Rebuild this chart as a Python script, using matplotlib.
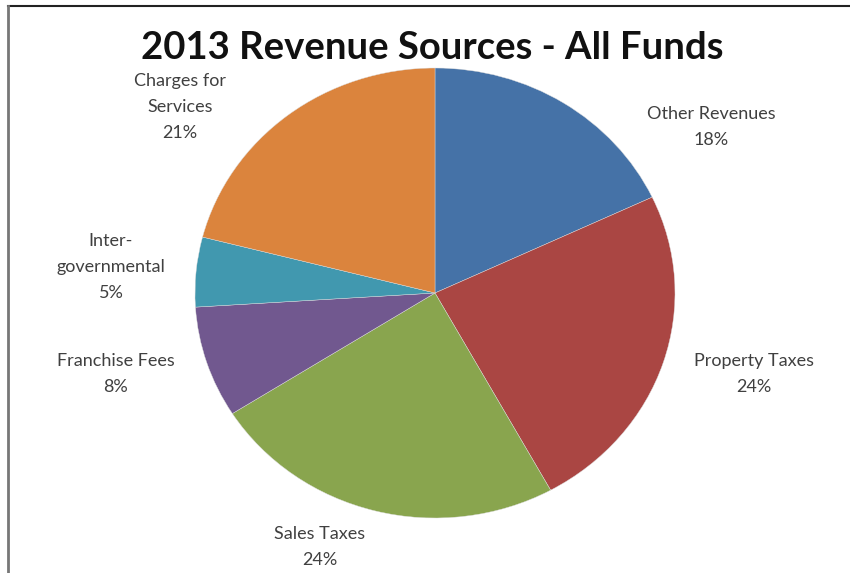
import matplotlib.pyplot as plt
from matplotlib.lines import Line2D

# Revenue sources, in clockwise order from 12 o'clock
labels = ['Other Revenues', 'Property Taxes', 'Sales Taxes', 'Franchise Fees',
          'Inter-\ngovernmental', 'Charges for\nServices']
shares = [18, 24, 24, 8, 5, 21]
colors = ['#4572A7', '#AA4643', '#89A54E', '#71588F', '#4198AF', '#DB843D']

# label centres in figure pixels (x from left, y from top)
label_pos = [(711, 127), (754, 374), (320, 547), (116, 374), (111, 267), (180, 107)]

W, H = 850, 573
fig = plt.figure(figsize=(W / 100, H / 100), dpi=100)
plt.rcParams['font.family'] = ['Lato', 'DejaVu Sans']

# pie is slightly wider than tall in the original
cx, cy, rx, ry = 435, 293, 240, 225
ax = fig.add_axes([(cx - rx) / W, (H - cy - ry) / H, 2 * rx / W, 2 * ry / H])
ax.pie(shares, colors=colors, startangle=90, counterclock=False,
       wedgeprops=dict(linewidth=0.3, edgecolor='#dddddd'))
ax.set_aspect('auto')
ax.set_xlim(-1, 1)
ax.set_ylim(-1, 1)
ax.axis('off')

for lab, val, (px, py) in zip(labels, shares, label_pos):
    fig.text(px / W, 1 - py / H, f'{lab}\n{val}%', ha='center', va='center',
             fontsize=13, color='#404040', linespacing=1.75)

fig.text(432 / W, 1 - 48 / H, '2013 Revenue Sources - All Funds', ha='center',
         va='center', fontsize=27.5, fontweight='bold', color='#111111')

# frame lines at top and left like the screenshot
fig.add_artist(Line2D([8 / W, 1], [1 - 6 / H, 1 - 6 / H], color='#222222', lw=1.5))
fig.add_artist(Line2D([8 / W, 8 / W], [0, 1 - 6 / H], color='#777777', lw=2))

fig.savefig('out.png', dpi=100, facecolor='white')
